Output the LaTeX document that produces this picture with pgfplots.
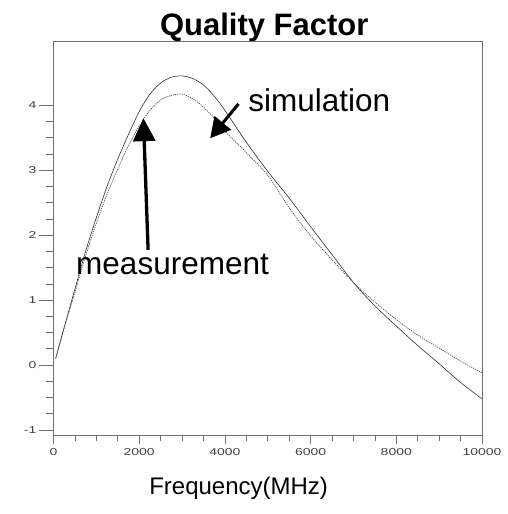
\documentclass[border=0pt]{standalone}
\usepackage{pgfplots}
\pgfplotsset{compat=1.18}
\usepackage{fontspec}
\setmainfont{Liberation Sans}
\newfontfamily\tickfont[FakeStretch=1.4]{Liberation Sans}
\usetikzlibrary{arrows.meta}
\definecolor{boxgray}{HTML}{707070}
\definecolor{labgray}{HTML}{404040}
\definecolor{simcol}{HTML}{303030}
\definecolor{meascol}{HTML}{505050}
\begin{document}
\begin{tikzpicture}
\path[use as bounding box] (-53.5pt,-79pt) rectangle (454.5pt,435pt);
% axis carrying the curves and the x ticks
\begin{axis}[
  at={(0,0)}, anchor=south west,
  width=428.5pt, height=393.5pt, scale only axis,
  xmin=0, xmax=10000, ymin=-1.077, ymax=4.98,
  clip=false,
  axis line style={boxgray, line width=0.6pt},
  tick align=outside,
  xtick pos=left,
  xtick={0,2000,4000,6000,8000,10000},
  minor x tick num=3,
  ytick=\empty,
  major tick length=9pt, minor tick length=6pt,
  tick style={boxgray, line width=0.6pt},
  scaled x ticks=false,
  /pgf/number format/assume math mode=true,
  /pgf/number format/1000 sep={},
  x tick label style={font=\tickfont\fontsize{10}{11}\selectfont, labgray, inner sep=1pt, yshift=-3pt},
]
\addplot[simcol, line width=0.6pt, smooth] coordinates {
(50,0.1)(250,0.58)(500,1.17)(750,1.75)(1000,2.27)(1250,2.75)(1500,3.17)(1750,3.55)(2000,3.9)(2250,4.17)(2500,4.34)(2750,4.43)(3000,4.45)(3250,4.41)(3500,4.31)(3750,4.14)(4000,3.92)(4500,3.43)(5000,2.98)(5500,2.57)(6000,2.13)(6500,1.7)(7000,1.27)(7500,0.91)(8000,0.6)(8500,0.3)(9000,0.02)(9500,-0.27)(10000,-0.52)
};
\addplot[meascol, line width=0.7pt, dash pattern=on 1.2pt off 1pt, smooth] coordinates {
(50,0.1)(250,0.57)(500,1.12)(750,1.68)(1000,2.18)(1250,2.63)(1500,3.02)(1750,3.38)(2000,3.68)(2250,3.92)(2500,4.08)(2750,4.15)(3000,4.17)(3250,4.1)(3500,3.97)(3750,3.8)(4000,3.6)(4500,3.27)(5000,2.92)(5500,2.42)(6000,1.99)(6500,1.62)(7000,1.27)(7500,0.97)(8000,0.7)(8500,0.46)(9000,0.26)(9500,0.06)(10000,-0.12)
};
\draw[black, line width=3.3pt, -{Triangle[length=23pt,width=22pt]}] (axis cs:2208,1.774) -- (axis cs:2098,3.80);
\draw[black, line width=3pt, -{Triangle[length=20pt,width=21pt]}] (axis cs:4318,4.02) -- (axis cs:3657,3.49);
\node[anchor=base west, inner sep=0pt, font=\fontsize{31.5}{34}\selectfont] at (axis cs:526,1.39) {measurement};
\node[anchor=base west, inner sep=0pt, font=\fontsize{31.5}{34}\selectfont] at (axis cs:4544,3.90) {simulation};
\node[anchor=base, inner sep=0pt, font=\bfseries\fontsize{31}{34}\selectfont] at (axis cs:4918,5.08) {Quality Factor};
\node[anchor=base west, inner sep=0pt, font=\fontsize{24}{26}\selectfont] at (axis cs:2231,-1.995) {Frequency(MHz)};
\end{axis}
% overlay axis carrying the y ticks
\begin{axis}[
  at={(0,0)}, anchor=south west,
  width=428.5pt, height=393.5pt, scale only axis,
  xmin=0, xmax=10000, ymin=-1.077, ymax=4.98,
  axis line style={boxgray, line width=0.6pt},
  tick align=outside,
  ytick pos=left,
  ytick={-1,0,1,2,3,4},
  minor y tick num=3,
  xtick=\empty,
  major tick length=15pt, minor tick length=7.7pt,
  tick style={boxgray, line width=0.6pt},
  /pgf/number format/assume math mode=true,
  y tick label style={font=\tickfont\fontsize{10}{11}\selectfont, labgray, inner sep=1pt, xshift=-1pt},
]
\end{axis}
\end{tikzpicture}
\end{document}
